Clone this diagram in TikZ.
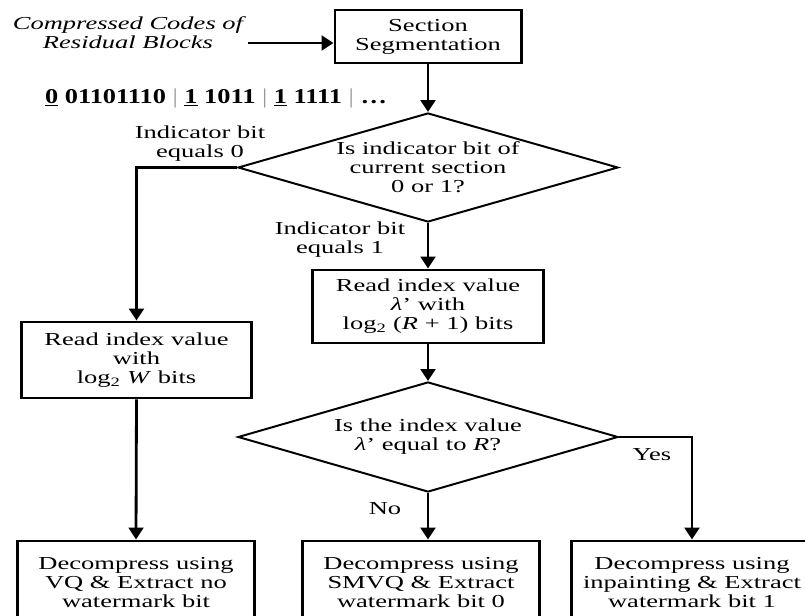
\documentclass[tikz,border=0pt]{standalone}
\usepackage{fontspec}
\setmainfont{Liberation Serif}[FakeStretch=1.45]
\newfontfamily\bitsfont{Liberation Serif}[FakeStretch=1.25]
\usetikzlibrary{arrows.meta,shapes.geometric}
\newcommand{\bitsep}{{\color{black!40}\mdseries|}}

\begin{document}
\begin{tikzpicture}[x=0.025cm,y=-0.025cm,
		every node/.style={font=\fontsize{13}{13.5}\selectfont, align=center, inner sep=0pt},
		procbox/.style={draw, line width=2.1pt},
		decide/.style={draw, diamond, aspect=3.5, line width=1.4pt},
		flow/.style={line width=2pt, -{Triangle[width=10.5pt,length=8.5pt]}}]
		%%%%% FRAME %%%%%
		\useasboundingbox (0,0) rectangle (805,616);
		\clip (0,0) rectangle (805,616);
		
		%%%%% INPUT %%%%%
		\node[font=\fontsize{13}{13.5}\selectfont\itshape] (codes) at (128,33) {Compressed Codes of\\Residual Blocks};
		\node[procbox, minimum width=4.65cm, minimum height=1.325cm] (seg) at (428,36.5) {Section\\Segmentation};
		\node[font=\fontsize{15}{15}\bitsfont\bfseries] (bits) at (216,98) {\underline{0} 01101110 \bitsep\ \underline{1} 1011 \bitsep\ \underline{1} 1111 \bitsep\ \dots};
		\coordinate (cin) at (248,43);
		
		%%%%% FIRST TEST %%%%%
		\node[decide, minimum width=9.5cm, minimum height=2.725cm] (dia1) at (428,167.5) {Is indicator bit of\\current section\\0 or 1?};
		\node (eq0) at (200,144) {Indicator bit\\equals 0};
		\node (eq1) at (340,240) {Indicator bit\\equals 1};
		
		\node[procbox, minimum width=5.725cm, minimum height=1.9cm] (rd1) at (136.5,360) {Read index value\\with\\log\textsubscript{2} \textit{W} bits};
		\node[procbox, minimum width=5.75cm, minimum height=1.825cm] (rd2) at (428,306.5) {Read index value\\\textit{λ}’ with\\log\textsubscript{2} (\textit{R} + 1) bits};
		
		%%%%% SECOND TEST %%%%%
		\node[decide, minimum width=9.5cm, minimum height=2.75cm] (dia2) at (428,437) {Is the index value\\\textit{λ}’ equal to \textit{R}?};
		\node (no) at (385,509) {No};
		\node (yes) at (652,455) {Yes};
		
		%%%%% OUTPUTS %%%%%
		\node[procbox, minimum width=5.9cm, minimum height=2.1cm] (outl) at (136,583) {Decompress using\\VQ \& Extract no\\watermark bit};
		\node[procbox, minimum width=5.9cm, minimum height=2.1cm] (outm) at (421,583) {Decompress using\\SMVQ \& Extract\\watermark bit 0};
		\node[procbox, minimum width=6cm, minimum height=2.1cm] (outr) at (692,583) {Decompress using\\inpainting \& Extract\\watermark bit 1};
		
		%%%%% ARROWS %%%%%
		\draw[flow] (cin) -- (cin -| seg.west);
		\draw[flow] (seg.south) -- (dia1.north);
		\draw[flow] (dia1.west) -| (rd1.north);
		\draw[flow] (dia1.south) -- (rd2.north);
		\draw[flow] (rd1.south) -- (outl.north);
		\draw[flow] (rd2.south) -- (dia2.north);
		\draw[flow] (dia2.south) -- (dia2.south |- outm.north);
		\draw[flow] (dia2.east) -| (outr.north);
	\end{tikzpicture}
\end{document}
